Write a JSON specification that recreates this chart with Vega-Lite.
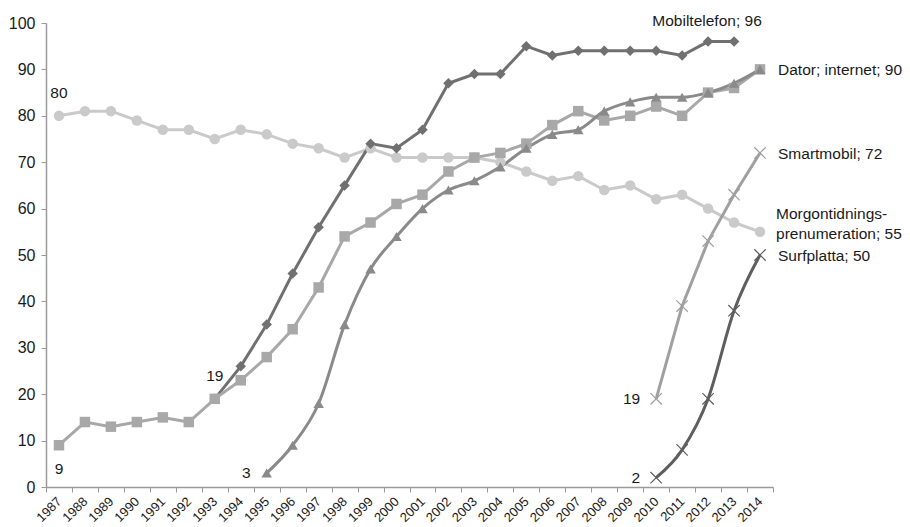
{
  "$schema": "https://vega.github.io/schema/vega-lite/v6.json",
  "autosize": "none",
  "width": 727,
  "height": 464,
  "padding": {"left": 46, "top": 23, "right": 137, "bottom": 40},
  "background": "white",
  "config": {
    "view": {"stroke": null},
    "font": "Liberation Sans",
    "text": {"font": "Liberation Sans"},
    "axis": {"domainColor": "#9a9a9a", "tickColor": "#9a9a9a", "labelColor": "#1a1a1a", "grid": false, "title": null, "labelFont": "Liberation Sans"}
  },
  "datasets": {
    "series": [
      {"series": "Morgontidningsprenumeration", "year": "1987", "value": 80},
      {"series": "Morgontidningsprenumeration", "year": "1988", "value": 81},
      {"series": "Morgontidningsprenumeration", "year": "1989", "value": 81},
      {"series": "Morgontidningsprenumeration", "year": "1990", "value": 79},
      {"series": "Morgontidningsprenumeration", "year": "1991", "value": 77},
      {"series": "Morgontidningsprenumeration", "year": "1992", "value": 77},
      {"series": "Morgontidningsprenumeration", "year": "1993", "value": 75},
      {"series": "Morgontidningsprenumeration", "year": "1994", "value": 77},
      {"series": "Morgontidningsprenumeration", "year": "1995", "value": 76},
      {"series": "Morgontidningsprenumeration", "year": "1996", "value": 74},
      {"series": "Morgontidningsprenumeration", "year": "1997", "value": 73},
      {"series": "Morgontidningsprenumeration", "year": "1998", "value": 71},
      {"series": "Morgontidningsprenumeration", "year": "1999", "value": 73},
      {"series": "Morgontidningsprenumeration", "year": "2000", "value": 71},
      {"series": "Morgontidningsprenumeration", "year": "2001", "value": 71},
      {"series": "Morgontidningsprenumeration", "year": "2002", "value": 71},
      {"series": "Morgontidningsprenumeration", "year": "2003", "value": 71},
      {"series": "Morgontidningsprenumeration", "year": "2004", "value": 70},
      {"series": "Morgontidningsprenumeration", "year": "2005", "value": 68},
      {"series": "Morgontidningsprenumeration", "year": "2006", "value": 66},
      {"series": "Morgontidningsprenumeration", "year": "2007", "value": 67},
      {"series": "Morgontidningsprenumeration", "year": "2008", "value": 64},
      {"series": "Morgontidningsprenumeration", "year": "2009", "value": 65},
      {"series": "Morgontidningsprenumeration", "year": "2010", "value": 62},
      {"series": "Morgontidningsprenumeration", "year": "2011", "value": 63},
      {"series": "Morgontidningsprenumeration", "year": "2012", "value": 60},
      {"series": "Morgontidningsprenumeration", "year": "2013", "value": 57},
      {"series": "Morgontidningsprenumeration", "year": "2014", "value": 55},
      {"series": "Mobiltelefon", "year": "1993", "value": 19},
      {"series": "Mobiltelefon", "year": "1994", "value": 26},
      {"series": "Mobiltelefon", "year": "1995", "value": 35},
      {"series": "Mobiltelefon", "year": "1996", "value": 46},
      {"series": "Mobiltelefon", "year": "1997", "value": 56},
      {"series": "Mobiltelefon", "year": "1998", "value": 65},
      {"series": "Mobiltelefon", "year": "1999", "value": 74},
      {"series": "Mobiltelefon", "year": "2000", "value": 73},
      {"series": "Mobiltelefon", "year": "2001", "value": 77},
      {"series": "Mobiltelefon", "year": "2002", "value": 87},
      {"series": "Mobiltelefon", "year": "2003", "value": 89},
      {"series": "Mobiltelefon", "year": "2004", "value": 89},
      {"series": "Mobiltelefon", "year": "2005", "value": 95},
      {"series": "Mobiltelefon", "year": "2006", "value": 93},
      {"series": "Mobiltelefon", "year": "2007", "value": 94},
      {"series": "Mobiltelefon", "year": "2008", "value": 94},
      {"series": "Mobiltelefon", "year": "2009", "value": 94},
      {"series": "Mobiltelefon", "year": "2010", "value": 94},
      {"series": "Mobiltelefon", "year": "2011", "value": 93},
      {"series": "Mobiltelefon", "year": "2012", "value": 96},
      {"series": "Mobiltelefon", "year": "2013", "value": 96},
      {"series": "Dator", "year": "1987", "value": 9},
      {"series": "Dator", "year": "1988", "value": 14},
      {"series": "Dator", "year": "1989", "value": 13},
      {"series": "Dator", "year": "1990", "value": 14},
      {"series": "Dator", "year": "1991", "value": 15},
      {"series": "Dator", "year": "1992", "value": 14},
      {"series": "Dator", "year": "1993", "value": 19},
      {"series": "Dator", "year": "1994", "value": 23},
      {"series": "Dator", "year": "1995", "value": 28},
      {"series": "Dator", "year": "1996", "value": 34},
      {"series": "Dator", "year": "1997", "value": 43},
      {"series": "Dator", "year": "1998", "value": 54},
      {"series": "Dator", "year": "1999", "value": 57},
      {"series": "Dator", "year": "2000", "value": 61},
      {"series": "Dator", "year": "2001", "value": 63},
      {"series": "Dator", "year": "2002", "value": 68},
      {"series": "Dator", "year": "2003", "value": 71},
      {"series": "Dator", "year": "2004", "value": 72},
      {"series": "Dator", "year": "2005", "value": 74},
      {"series": "Dator", "year": "2006", "value": 78},
      {"series": "Dator", "year": "2007", "value": 81},
      {"series": "Dator", "year": "2008", "value": 79},
      {"series": "Dator", "year": "2009", "value": 80},
      {"series": "Dator", "year": "2010", "value": 82},
      {"series": "Dator", "year": "2011", "value": 80},
      {"series": "Dator", "year": "2012", "value": 85},
      {"series": "Dator", "year": "2013", "value": 86},
      {"series": "Dator", "year": "2014", "value": 90},
      {"series": "Internet", "year": "1995", "value": 3},
      {"series": "Internet", "year": "1996", "value": 9},
      {"series": "Internet", "year": "1997", "value": 18},
      {"series": "Internet", "year": "1998", "value": 35},
      {"series": "Internet", "year": "1999", "value": 47},
      {"series": "Internet", "year": "2000", "value": 54},
      {"series": "Internet", "year": "2001", "value": 60},
      {"series": "Internet", "year": "2002", "value": 64},
      {"series": "Internet", "year": "2003", "value": 66},
      {"series": "Internet", "year": "2004", "value": 69},
      {"series": "Internet", "year": "2005", "value": 73},
      {"series": "Internet", "year": "2006", "value": 76},
      {"series": "Internet", "year": "2007", "value": 77},
      {"series": "Internet", "year": "2008", "value": 81},
      {"series": "Internet", "year": "2009", "value": 83},
      {"series": "Internet", "year": "2010", "value": 84},
      {"series": "Internet", "year": "2011", "value": 84},
      {"series": "Internet", "year": "2012", "value": 85},
      {"series": "Internet", "year": "2013", "value": 87},
      {"series": "Internet", "year": "2014", "value": 90},
      {"series": "Smartmobil", "year": "2010", "value": 19},
      {"series": "Smartmobil", "year": "2011", "value": 39},
      {"series": "Smartmobil", "year": "2012", "value": 53},
      {"series": "Smartmobil", "year": "2013", "value": 63},
      {"series": "Smartmobil", "year": "2014", "value": 72},
      {"series": "Surfplatta", "year": "2010", "value": 2},
      {"series": "Surfplatta", "year": "2011", "value": 8},
      {"series": "Surfplatta", "year": "2012", "value": 19},
      {"series": "Surfplatta", "year": "2013", "value": 38},
      {"series": "Surfplatta", "year": "2014", "value": 50}
    ],
    "labels": [
      {"year": "2013", "value": 96, "label": "Mobiltelefon; 96", "pos": "above"},
      {"year": "2014", "value": 90, "label": "Dator; internet; 90", "pos": "right"},
      {"year": "2014", "value": 72, "label": "Smartmobil; 72", "pos": "right"},
      {"year": "2014", "value": 50, "label": "Surfplatta; 50", "pos": "right"},
      {"year": "2014", "value": 55, "label": ["Morgontidnings-", "prenumeration; 55"], "pos": "right2"},
      {"year": "1987", "value": 80, "label": "80", "pos": "top"},
      {"year": "1993", "value": 19, "label": "19", "pos": "top"},
      {"year": "1987", "value": 9, "label": "9", "pos": "bottom"},
      {"year": "1995", "value": 3, "label": "3", "pos": "left"},
      {"year": "2010", "value": 19, "label": "19", "pos": "left"},
      {"year": "2010", "value": 2, "label": "2", "pos": "left"}
    ]
  },
  "encoding": {
    "x": {
      "field": "year", "type": "ordinal",
      "scale": {"domain": ["1987","1988","1989","1990","1991","1992","1993","1994","1995","1996","1997","1998","1999","2000","2001","2002","2003","2004","2005","2006","2007","2008","2009","2010","2011","2012","2013","2014"], "paddingInner": 0, "paddingOuter": 0},
      "axis": {"labelAngle": -45, "labelAlign": "right", "labelBaseline": "middle", "labelFontSize": 13, "tickBand": "extent", "tickSize": 5, "labelPadding": 7, "domainWidth": 1.5}
    },
    "y": {
      "field": "value", "type": "quantitative",
      "scale": {"domain": [0, 100], "nice": false, "zero": true},
      "axis": {"values": [0,10,20,30,40,50,60,70,80,90,100], "labelFontSize": 16, "tickSize": 5, "labelPadding": 6, "domainWidth": 1.5}
    }
  },
  "layer": [
    {
      "data": {"name": "series"},
      "transform": [{"filter": "datum.series != 'Internet' && datum.series != 'Surfplatta'"}],
      "mark": {"type": "line", "strokeWidth": 3, "interpolate": "linear"},
      "encoding": {
        "color": {"field": "series", "type": "nominal", "legend": null,
          "scale": {"domain": ["Mobiltelefon","Dator","Internet","Morgontidningsprenumeration","Smartmobil","Surfplatta"], "range": ["#707070","#a8a8a8","#8a8a8a","#cacaca","#a0a0a0","#5e5e5e"]}},
        "detail": {"field": "series"}
      }
    },
    {
      "data": {"name": "series"},
      "transform": [{"filter": "datum.series == 'Internet' || datum.series == 'Surfplatta'"}],
      "mark": {"type": "line", "strokeWidth": 3, "interpolate": "monotone"},
      "encoding": {
        "color": {"field": "series", "type": "nominal", "legend": null},
        "detail": {"field": "series"}
      }
    },
    {
      "data": {"name": "series"},
      "transform": [{"filter": "datum.series != 'Smartmobil' && datum.series != 'Surfplatta'"}],
      "mark": {"type": "point", "filled": true, "opacity": 1, "size": 110},
      "encoding": {
        "color": {"field": "series", "type": "nominal", "legend": null},
        "shape": {"field": "series", "type": "nominal", "legend": null,
          "scale": {"domain": ["Mobiltelefon","Dator","Internet","Morgontidningsprenumeration"], "range": ["diamond","square","triangle-up","circle"]}}
      }
    },
    {
      "data": {"name": "series"},
      "transform": [{"filter": "datum.series == 'Smartmobil' || datum.series == 'Surfplatta'"}],
      "mark": {"type": "point", "filled": false, "opacity": 1, "size": 130, "strokeWidth": 1.2, "shape": "M-1,-1L1,1M-1,1L1,-1"},
      "encoding": {
        "color": {"field": "series", "type": "nominal", "legend": null}
      }
    },
    {
      "data": {"name": "labels"},
      "transform": [{"filter": "datum.pos == 'above'"}],
      "mark": {"type": "text", "fontSize": 15.5, "color": "#1a1a1a", "align": "center", "baseline": "middle", "dx": -27, "dy": -21},
      "encoding": {"text": {"field": "label"}}
    },
    {
      "data": {"name": "labels"},
      "transform": [{"filter": "datum.pos == 'right'"}],
      "mark": {"type": "text", "fontSize": 15.5, "color": "#1a1a1a", "align": "left", "baseline": "middle", "dx": 18, "dy": 1},
      "encoding": {"text": {"field": "label"}}
    },
    {
      "data": {"name": "labels"},
      "transform": [{"filter": "datum.pos == 'right2'"}],
      "mark": {"type": "text", "fontSize": 15.5, "color": "#1a1a1a", "align": "left", "baseline": "middle", "dx": 16, "dy": -18, "lineHeight": 20},
      "encoding": {"text": {"field": "label"}}
    },
    {
      "data": {"name": "labels"},
      "transform": [{"filter": "datum.pos == 'top'"}],
      "mark": {"type": "text", "fontSize": 15.5, "color": "#1a1a1a", "align": "center", "baseline": "middle", "dy": -23},
      "encoding": {"text": {"field": "label"}}
    },
    {
      "data": {"name": "labels"},
      "transform": [{"filter": "datum.pos == 'bottom'"}],
      "mark": {"type": "text", "fontSize": 15.5, "color": "#1a1a1a", "align": "center", "baseline": "middle", "dy": 24},
      "encoding": {"text": {"field": "label"}}
    },
    {
      "data": {"name": "labels"},
      "transform": [{"filter": "datum.pos == 'left'"}],
      "mark": {"type": "text", "fontSize": 15.5, "color": "#1a1a1a", "align": "right", "baseline": "middle", "dx": -16},
      "encoding": {"text": {"field": "label"}}
    }
  ]
}
